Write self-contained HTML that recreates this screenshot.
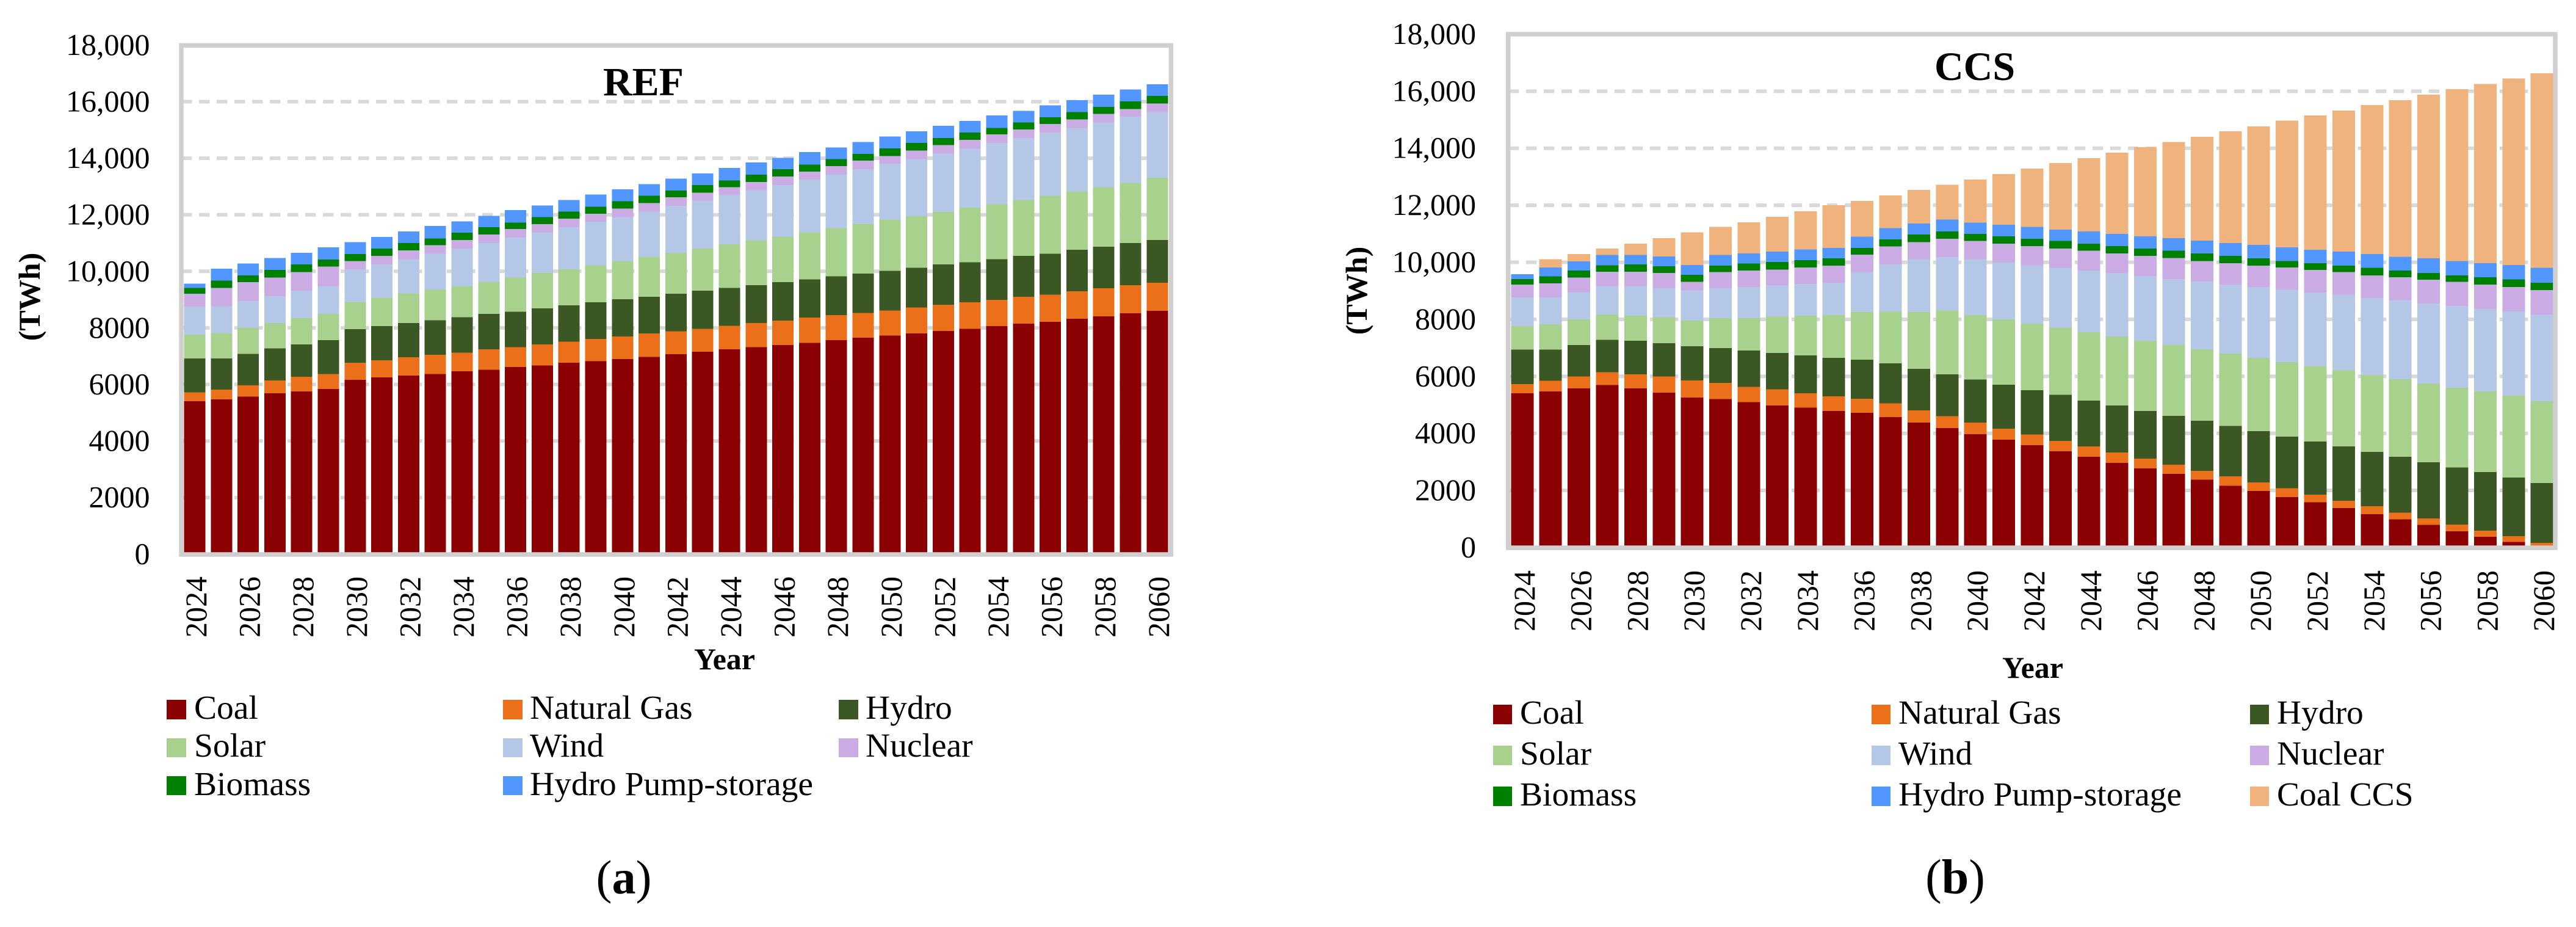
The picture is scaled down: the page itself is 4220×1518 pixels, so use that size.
<!DOCTYPE html>
<html lang="en">
<head>
<meta charset="utf-8">
<title>Electricity generation by source: REF and CCS scenarios</title>
<style>
html,body{margin:0;padding:0;background:#fff;}
svg{display:block;font-family:"Liberation Serif",serif;fill:#000;}
</style>
</head>
<body>
<svg id="figure" xmlns="http://www.w3.org/2000/svg" width="4220" height="1518" viewBox="0 0 4220 1518">
  <rect x="0" y="0" width="4220" height="1518" fill="#ffffff"/>

  <g id="chart-ref"></g>
  <text x="988" y="156" font-size="66" font-weight="bold">REF</text>
  <text transform="translate(65,486) rotate(-90)" text-anchor="middle" font-size="50" font-weight="bold">(TWh)</text>
  <text x="1187" y="1096" text-anchor="middle" font-size="50" font-weight="bold">Year</text>

  <g font-size="55.5">
    <g><rect x="273" y="1146" width="32" height="32" fill="#8b0000"/><text x="318" y="1177">Coal</text></g>
    <g><rect x="824" y="1146" width="32" height="32" fill="#eb7019"/><text x="868" y="1177">Natural Gas</text></g>
    <g><rect x="1374" y="1146" width="32" height="32" fill="#3b5723"/><text x="1418" y="1177">Hydro</text></g>
    <g><rect x="273" y="1209" width="32" height="31" fill="#a9d18e"/><text x="318" y="1239">Solar</text></g>
    <g><rect x="824" y="1209" width="32" height="31" fill="#b4c7e7"/><text x="868" y="1239">Wind</text></g>
    <g><rect x="1374" y="1209" width="32" height="31" fill="#cbabe3"/><text x="1418" y="1239">Nuclear</text></g>
    <g><rect x="273" y="1271" width="32" height="31" fill="#008000"/><text x="318" y="1302">Biomass</text></g>
    <g><rect x="824" y="1271" width="32" height="31" fill="#5197ff"/><text x="868" y="1302">Hydro Pump-storage</text></g>
  </g>
  <text x="1022" y="1463" text-anchor="middle" font-size="78">(<tspan font-weight="bold">a</tspan>)</text>

  <g id="chart-ccs"></g>
  <text x="3169" y="131" font-size="66" font-weight="bold">CCS</text>
  <text transform="translate(2239,476) rotate(-90)" text-anchor="middle" font-size="50" font-weight="bold">(TWh)</text>
  <text x="3330" y="1110" text-anchor="middle" font-size="50" font-weight="bold">Year</text>

  <g font-size="55.5">
    <g><rect x="2446" y="1154" width="31" height="32" fill="#8b0000"/><text x="2490" y="1185">Coal</text></g>
    <g><rect x="3066" y="1154" width="31" height="32" fill="#eb7019"/><text x="3110" y="1185">Natural Gas</text></g>
    <g><rect x="3686" y="1154" width="31" height="32" fill="#3b5723"/><text x="3730" y="1185">Hydro</text></g>
    <g><rect x="2446" y="1221" width="31" height="32" fill="#a9d18e"/><text x="2490" y="1252">Solar</text></g>
    <g><rect x="3066" y="1221" width="31" height="32" fill="#b4c7e7"/><text x="3110" y="1252">Wind</text></g>
    <g><rect x="3686" y="1221" width="31" height="32" fill="#cbabe3"/><text x="3730" y="1252">Nuclear</text></g>
    <g><rect x="2446" y="1288" width="31" height="32" fill="#008000"/><text x="2490" y="1319">Biomass</text></g>
    <g><rect x="3066" y="1288" width="31" height="32" fill="#5197ff"/><text x="3110" y="1319">Hydro Pump-storage</text></g>
    <g><rect x="3686" y="1288" width="31" height="32" fill="#f1b37e"/><text x="3730" y="1319">Coal CCS</text></g>
  </g>
  <text x="3203" y="1463" text-anchor="middle" font-size="80">(<tspan font-weight="bold">b</tspan>)</text>
</svg>

<script>
var years = [2024,2025,2026,2027,2028,2029,2030,2031,2032,2033,2034,2035,2036,2037,2038,2039,2040,2041,2042,2043,2044,2045,2046,2047,2048,2049,2050,2051,2052,2053,2054,2055,2056,2057,2058,2059,2060];
var yTicks = [0,2000,4000,6000,8000,10000,12000,14000,16000,18000];
var yTickLabels = ["0","2000","4000","6000","8000","10,000","12,000","14,000","16,000","18,000"];

var seriesKeys = ["coal","natural-gas","hydro","solar","wind","nuclear","biomass","hydro-pump-storage","coal-ccs"];
var seriesColors = ["#8b0000","#eb7019","#3b5723","#a9d18e","#b4c7e7","#cbabe3","#008000","#5197ff","#f1b37e"];

/* REF scenario (TWh) */
var refCoal = [5406,5475,5571,5682,5750,5833,6163,6246,6315,6370,6466,6521,6618,6673,6769,6824,6893,6976,7072,7155,7238,7320,7389,7472,7568,7651,7733,7802,7885,7967,8064,8146,8215,8325,8408,8518,8601];
var refGas = [317,344,399,454,523,537,606,606,647,675,661,716,702,744,744,785,799,826,812,812,840,854,868,895,881,881,881,923,936,936,923,950,964,964,991,991,991];
var refHydro = [1198,1102,1115,1143,1143,1198,1184,1212,1212,1226,1253,1253,1253,1267,1281,1294,1322,1294,1322,1349,1336,1336,1363,1349,1377,1391,1405,1405,1418,1418,1446,1446,1446,1473,1473,1487,1515];
var refSolar = [840,895,923,895,923,923,950,991,1047,1088,1102,1143,1212,1253,1281,1308,1349,1418,1446,1487,1542,1584,1611,1666,1707,1749,1804,1818,1859,1928,1942,1983,2052,2066,2107,2134,2203];
var refWind = [991,950,936,950,978,991,1170,1184,1212,1267,1322,1363,1405,1432,1487,1542,1556,1597,1666,1694,1735,1776,1818,1859,1886,1942,1983,2024,2066,2093,2162,2189,2231,2245,2286,2341,2327];
var refNuclear = [454,647,675,661,661,689,289,303,303,303,303,303,303,303,303,289,303,303,303,289,289,289,303,289,303,303,275,303,303,303,303,303,303,303,303,275,303];
var refBiomass = [207,262,234,262,262,248,248,262,262,234,262,262,234,248,248,248,262,262,234,262,234,262,262,248,248,234,262,262,248,262,234,248,234,262,248,262,262];
var refPump = [151,413,427,427,413,427,427,413,413,441,399,399,441,413,413,427,413,413,427,413,441,427,399,441,413,427,427,413,427,413,441,413,427,413,427,427,413];

/* CCS scenario (TWh) */
var ccsCoal = [5404,5472,5581,5691,5581,5431,5254,5199,5090,4980,4899,4789,4721,4571,4379,4188,3970,3778,3587,3369,3177,2959,2768,2576,2371,2166,1975,1770,1579,1374,1169,978,787,568,377,186,0];
var ccsGas = [328,369,410,451,492,560,601,574,546,560,505,505,492,478,423,410,410,382,369,369,369,369,342,328,314,328,301,301,273,260,273,246,232,232,205,205,158];
var ccsHydro = [1202,1093,1106,1134,1175,1175,1202,1216,1270,1284,1325,1352,1366,1407,1462,1475,1503,1544,1557,1612,1598,1653,1680,1708,1762,1762,1803,1817,1858,1912,1912,1953,1967,2008,2063,2063,2104];
var ccsSolar = [833,888,902,888,874,902,902,1052,1134,1270,1393,1503,1680,1817,1994,2240,2268,2295,2336,2363,2404,2418,2459,2500,2500,2541,2568,2609,2636,2664,2691,2718,2759,2787,2828,2869,2869];
var ccsWind = [997,943,956,997,1038,1025,1052,1052,1093,1106,1120,1134,1393,1653,1844,1871,1953,1994,2049,2090,2158,2227,2268,2295,2377,2418,2486,2554,2595,2650,2705,2773,2814,2869,2896,2951,3033];
var ccsNuclear = [451,492,505,505,505,533,301,560,574,546,574,601,615,628,601,642,642,656,669,683,697,683,710,738,724,751,751,765,792,792,792,806,833,847,847,861,861];
var ccsBiomass = [191,246,246,232,260,232,246,232,246,260,260,260,232,246,273,260,246,260,260,260,246,260,260,260,260,260,260,232,232,232,260,232,232,232,260,260,260];
var ccsPump = [178,314,328,355,328,342,342,369,355,369,369,355,396,396,382,410,396,410,410,396,437,423,423,437,451,451,464,478,478,492,492,492,519,505,492,505,519];
var ccsCoalCcs = [0,287,260,232,396,642,1147,984,1093,1216,1339,1503,1257,1147,1175,1229,1516,1776,2049,2336,2568,2855,3128,3374,3647,3920,4153,4440,4713,4945,5218,5491,5737,6024,6284,6543,6830];

var refSeries = [refCoal,refGas,refHydro,refSolar,refWind,refNuclear,refBiomass,refPump];
var ccsSeries = [ccsCoal,ccsGas,ccsHydro,ccsSolar,ccsWind,ccsNuclear,ccsBiomass,ccsPump,ccsCoalCcs];

var SVGNS = "http://www.w3.org/2000/svg";

function drawChart(root, prefix, series, geo) {
  function xCenter(i) { return geo.x0 + i * geo.step; }
  function yPos(v) { return geo.y0 - v * geo.pxPerUnit; }

  /* gridlines */
  yTicks.forEach(function (t) {
    if (t === 0 || t === 18000) { return; }
    var line = document.createElementNS(SVGNS, "line");
    
    
    line.setAttribute("x1", geo.left);
    line.setAttribute("x2", geo.right);
    line.setAttribute("y1", yPos(t));
    line.setAttribute("y2", yPos(t));
    line.setAttribute("stroke", "#d9d9d9");
    line.setAttribute("stroke-width", "6");
    line.setAttribute("stroke-dasharray", "17.5 11.5");
    root.appendChild(line);
  });

  /* stacked bars */
  years.forEach(function (year, i) {
    var acc = 0;
    series.forEach(function (values, s) {
      var v = values[i];
      if (v <= 0) { return; }
      var rect = document.createElementNS(SVGNS, "rect");
      
      
      rect.setAttribute("data-series", seriesKeys[s]);
      rect.setAttribute("data-year", year);
      rect.setAttribute("x", xCenter(i) - geo.barWidth / 2);
      rect.setAttribute("y", yPos(acc + v));
      rect.setAttribute("width", geo.barWidth);
      rect.setAttribute("height", yPos(acc) - yPos(acc + v));
      rect.setAttribute("fill", seriesColors[s]);
      rect.setAttribute("shape-rendering", "crispEdges");
      root.appendChild(rect);
      acc += v;
    });
  });

  /* plot frame */
  var frame = document.createElementNS(SVGNS, "rect");
  
  
  frame.setAttribute("x", geo.left);
  frame.setAttribute("y", geo.top);
  frame.setAttribute("width", geo.right - geo.left);
  frame.setAttribute("height", geo.bottom - geo.top);
  frame.setAttribute("fill", "none");
  frame.setAttribute("stroke", "#d0cece");
  frame.setAttribute("stroke-width", "7.5");
  root.appendChild(frame);

  /* y tick labels */
  yTicks.forEach(function (t, i) {
    var label = document.createElementNS(SVGNS, "text");
    
    
    label.setAttribute("x", geo.yLabelX);
    label.setAttribute("y", yPos(t) + 16);
    label.setAttribute("text-anchor", "end");
    label.setAttribute("font-size", "50");
    label.textContent = yTickLabels[i];
    root.appendChild(label);
  });

  /* x tick labels: every second year */
  years.forEach(function (year, i) {
    if (i % 2 !== 0) { return; }
    var label = document.createElementNS(SVGNS, "text");
    
    
    label.setAttribute("transform", "translate(" + (xCenter(i) + geo.xLabelDx) + "," + geo.xLabelTop + ") rotate(-90)");
    label.setAttribute("text-anchor", "end");
    label.setAttribute("font-size", "50");
    label.textContent = String(year);
    root.appendChild(label);
  });
}

drawChart(document.getElementById("chart-ref"), "ref", refSeries, {
  x0: 319, step: 43.8, barWidth: 35, y0: 907.3, pxPerUnit: 0.0463,
  left: 297, right: 1918.4, top: 74.4, bottom: 908,
  yLabelX: 245.5, xLabelDx: 19, xLabelTop: 944
});

drawChart(document.getElementById("chart-ccs"), "ccs", ccsSeries, {
  x0: 2493.8, step: 46.4, barWidth: 37, y0: 896.4, pxPerUnit: 0.04669,
  left: 2470.8, right: 4186, top: 56, bottom: 897,
  yLabelX: 2418, xLabelDx: 20, xLabelTop: 934
});
</script>
</body>
</html>
